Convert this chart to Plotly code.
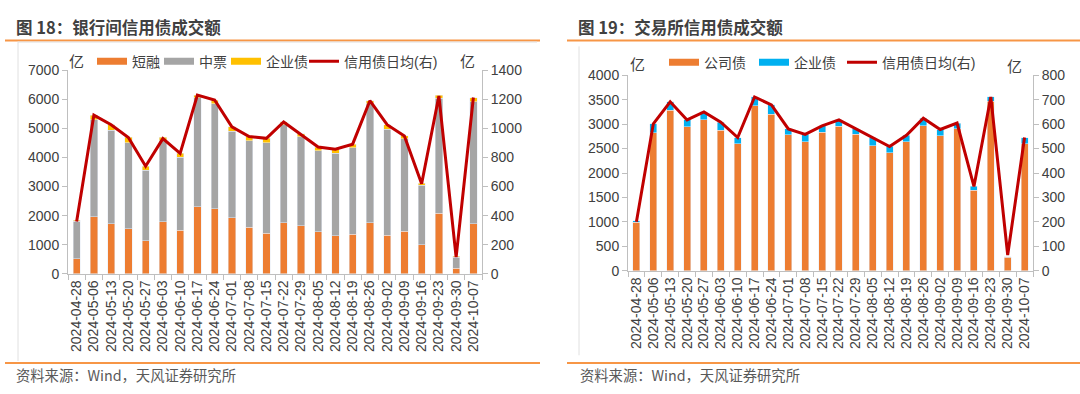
import plotly.graph_objects as go

dates = ["2024-04-28", "2024-05-06", "2024-05-13", "2024-05-20", "2024-05-27", "2024-06-03",
         "2024-06-10", "2024-06-17", "2024-06-24", "2024-07-01", "2024-07-08", "2024-07-15",
         "2024-07-22", "2024-07-29", "2024-08-05", "2024-08-12", "2024-08-19", "2024-08-26",
         "2024-09-02", "2024-09-09", "2024-09-16", "2024-09-23", "2024-09-30", "2024-10-07"]

# 银行间 (left chart)
ib_short = [520, 1970, 1715, 1550, 1130, 1790, 1505, 2300, 2240, 1920, 1595, 1395,
            1760, 1650, 1450, 1310, 1360, 1760, 1320, 1470, 990, 2090, 190, 1725]
ib_mtn = [1280, 3330, 3230, 2955, 2430, 2790, 2505, 3765, 3610, 2990, 2985, 3110,
          3370, 3065, 2790, 2830, 2970, 4090, 3650, 3170, 2055, 3945, 380, 4200]
ib_ent = [50, 160, 185, 185, 140, 110, 130, 85, 130, 145, 145, 155,
          110, 110, 120, 145, 130, 105, 160, 110, 75, 115, 35, 140]
ib_avg = [360, 1092, 1026, 938, 740, 930, 828, 1230, 1196, 1011, 945, 932,
          1045, 960, 872, 857, 892, 1191, 1026, 949, 620, 1224, 114, 1213]

# 交易所 (right chart)
ex_corp = [993, 2824, 3281, 2941, 3085, 2869, 2595, 3379, 3203, 2784, 2641, 2837,
           2954, 2791, 2562, 2412, 2641, 2967, 2758, 2908, 1647, 3464, 275, 2595]
ex_ent = [33, 183, 177, 144, 163, 170, 130, 177, 189, 118, 150, 130,
          131, 111, 163, 130, 130, 151, 131, 112, 78, 92, 13, 130]
ex_avg = [201, 601, 691, 617, 650, 608, 545, 711, 678, 580, 558, 593,
          617, 580, 545, 508, 554, 624, 578, 604, 345, 711, 65, 545]

C_OR = "#ED7D31"
C_GR = "#A5A5A5"
C_YE = "#FFC000"
C_BL = "#00B0F0"
C_RD = "#C00000"
TXT = "#404040"
FONT = "Liberation Sans, Arial, Noto Sans CJK SC"

fig = go.Figure()

fig.add_trace(go.Bar(x=dates, y=ib_short, marker_color=C_OR, name="短融", showlegend=False,
                     xaxis="x", yaxis="y"))
fig.add_trace(go.Bar(x=dates, y=ib_mtn, marker_color=C_GR, name="中票", showlegend=False,
                     xaxis="x", yaxis="y"))
fig.add_trace(go.Bar(x=dates, y=ib_ent, marker_color=C_YE, name="企业债", showlegend=False,
                     xaxis="x", yaxis="y"))
fig.add_trace(go.Scatter(x=dates, y=ib_avg, mode="lines", line=dict(color=C_RD, width=3),
                         name="信用债日均(右)", showlegend=False, xaxis="x", yaxis="y2"))

fig.add_trace(go.Bar(x=dates, y=ex_corp, marker_color=C_OR, name="公司债", showlegend=False,
                     xaxis="x2", yaxis="y3"))
fig.add_trace(go.Bar(x=dates, y=ex_ent, marker_color=C_BL, name="企业债", showlegend=False,
                     xaxis="x2", yaxis="y3"))
fig.add_trace(go.Scatter(x=dates, y=ex_avg, mode="lines", line=dict(color=C_RD, width=3),
                         name="信用债日均(右)", showlegend=False, xaxis="x2", yaxis="y4"))

W, H = 1080, 394
def px(x):
    return x / W
def py(y):
    return 1 - y / H

legfont = dict(family=FONT, size=14, color=TXT)
legend_items = [
    ("短融", C_OR, 7, "x", "y", 98, 56),
    ("中票", C_GR, 7, "x", "y", 165, 56),
    ("企业债", C_YE, 7, "x", "y", 232, 56),
    ("信用债日均(右)", C_RD, 3, "x", "y2", 310, 56),
    ("公司债", C_OR, 7, "x2", "y3", 670, 57),
    ("企业债", C_BL, 7, "x2", "y3", 760, 57),
    ("信用债日均(右)", C_RD, 3, "x2", "y4", 848, 57),
]
legends = {}
for i, (name, color, width, xa, ya, lx, ly) in enumerate(legend_items):
    key = "legend" if i == 0 else "legend%d" % (i + 1)
    fig.add_trace(go.Scatter(x=[None], y=[None], mode="lines", name=name,
                             line=dict(color=color, width=width), legend=key,
                             xaxis=xa, yaxis=ya))
    legends[key] = dict(orientation="h", x=px(lx - 6), y=py(ly), xanchor="left", yanchor="middle",
                        font=legfont, bgcolor="rgba(0,0,0,0)", itemwidth=30)

tickfont = dict(family=FONT, size=14, color=TXT)
xcommon = dict(type="category", tickangle=-90, tickfont=dict(family=FONT, size=14, color=TXT),
               tickmode="linear", tick0=0, dtick=1,
               showline=True, linecolor="#BFBFBF", ticks="outside", tickson="boundaries",
               ticklen=5, tickcolor="#BFBFBF", showgrid=False, zeroline=False)
ycommon = dict(showline=True, linecolor="#BFBFBF", ticks="outside", ticklen=5, tickcolor="#BFBFBF",
               showgrid=False, zeroline=False, tickfont=tickfont)

fig.update_layout(
    width=W, height=H, margin=dict(l=0, r=0, t=0, b=0),
    paper_bgcolor="white", plot_bgcolor="white",
    barmode="stack", bargap=0.58,
    font=dict(family=FONT, color=TXT),
    xaxis=dict(domain=[px(68), px(482)], anchor="y", **xcommon),
    yaxis=dict(domain=[py(277), py(65)], anchor="x", range=[0, 7000], dtick=1000, **ycommon),
    yaxis2=dict(overlaying="y", side="right", anchor="x", range=[0, 1400], dtick=200, **ycommon),
    xaxis2=dict(domain=[px(628), px(1033)], anchor="y3", **xcommon),
    yaxis3=dict(domain=[py(274), py(70)], anchor="x2", range=[0, 4000], dtick=500, **ycommon),
    yaxis4=dict(overlaying="y3", side="right", anchor="x2", range=[0, 800], dtick=100, **ycommon),
    **legends,
)

ann = []
def text(x, y, s, size=13, color=TXT, xanchor="left", bold=False):
    ann.append(dict(x=px(x), y=py(y), xref="paper", yref="paper", text=("<b>%s</b>" % s) if bold else s,
                    showarrow=False, xanchor=xanchor, yanchor="middle",
                    font=dict(family="Noto Sans CJK SC", size=size, color=color)))

text(14, 20, "图 18：银行间信用债成交额", size=16.5, bold=True)
text(576, 20, "图 19：交易所信用债成交额", size=16.5, bold=True)
text(14, 382, "资料来源：Wind，天风证券研究所", size=14.3, color="#595959")
text(578, 382, "资料来源：Wind，天风证券研究所", size=14.3, color="#595959")
text(76, 55, "亿", size=15, xanchor="center")
text(467, 55, "亿", size=15, xanchor="center")
text(637, 58, "亿", size=15, xanchor="center")
text(1014, 60, "亿", size=15, xanchor="center")
fig.update_layout(annotations=ann)

shapes = []
def hline(x0, x1, y, color, width):
    shapes.append(dict(type="line", xref="paper", yref="paper", x0=px(x0), x1=px(x1),
                       y0=py(y), y1=py(y), line=dict(color=color, width=width)))
def vline(x, y0, y1, color, width):
    shapes.append(dict(type="line", xref="paper", yref="paper", x0=px(x), x1=px(x),
                       y0=py(y0), y1=py(y1), line=dict(color=color, width=width)))

hline(5, 540, 34, "#F79646", 2)
hline(567, 1080, 34, "#F79646", 2)
hline(5, 540, 370, "#F79646", 2)
hline(567, 1080, 370, "#F79646", 2)
vline(18, 35, 368, "#E0E0E0", 1)
hline(18, 537, 35.5, "#E0E0E0", 1)
vline(579, 40, 362, "#E0E0E0", 1)
fig.update_layout(shapes=shapes)

fig.write_html("out.html", config={"displayModeBar": False},
               post_script="document.body.style.margin='0';document.body.style.overflow='hidden';")
